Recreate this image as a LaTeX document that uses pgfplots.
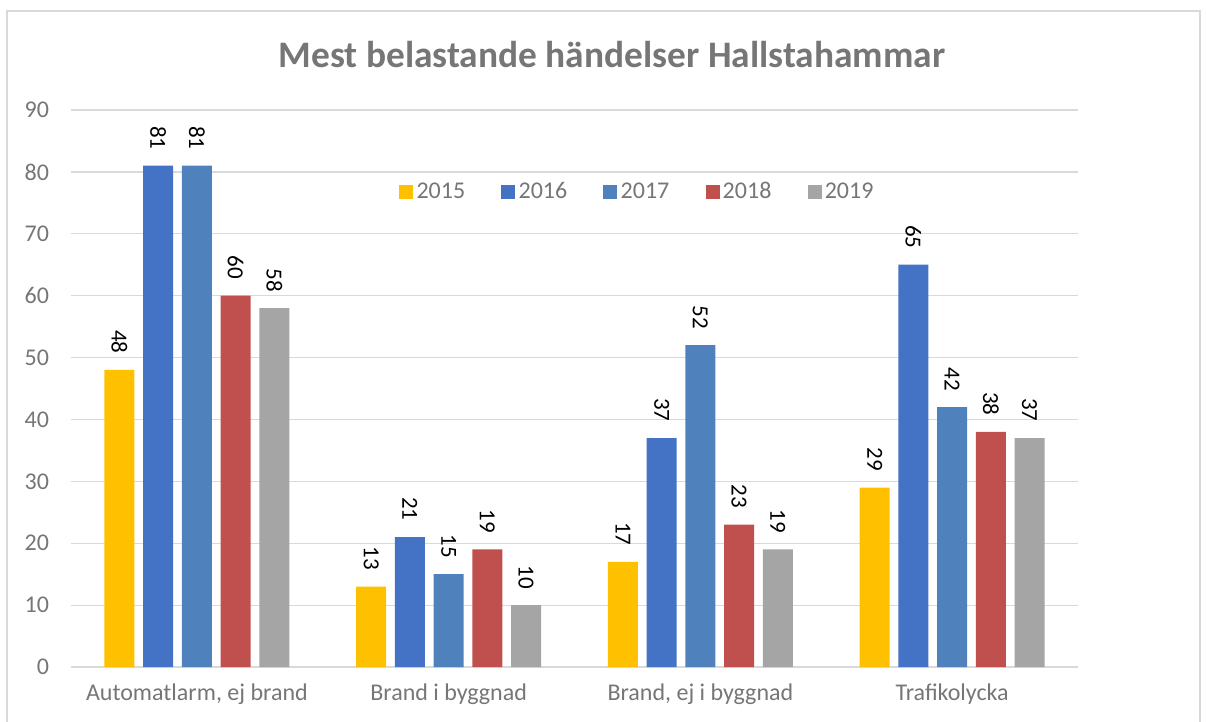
\documentclass[border=0pt]{standalone}
\usepackage{fontspec}
\setmainfont{Carlito}
\usepackage{pgfplots}
\pgfplotsset{compat=1.18}

\definecolor{c15}{HTML}{FFC000}
\definecolor{c16}{HTML}{4472C4}
\definecolor{c17}{HTML}{4F81BD}
\definecolor{c18}{HTML}{C0504D}
\definecolor{c19}{HTML}{A5A5A5}
\definecolor{gridgray}{HTML}{D9D9D9}
\definecolor{txtgray}{HTML}{767676}

\begin{document}
\begin{tikzpicture}
% page = 1206 x 722 px, 1 px = 0.5pt
\useasboundingbox (0,0) rectangle (603pt,-361pt);
\begin{scope}[x=0.5pt,y=-0.5pt]
  \draw[gridgray, line width=0.6pt] (7,730) -- (7,11) -- (1200,11) -- (1200,730);
  \node[font=\fontsize{18.7}{22}\selectfont\bfseries, text=txtgray] at (612,55)
    {Mest belastande händelser Hallstahammar};
\end{scope}

\begin{axis}[
    at={(35.5pt,-333.5pt)}, anchor=south west,
    scale only axis,
    width=503.5pt, height=278.5pt,
    xmin=-0.5, xmax=3.5,
    ymin=0, ymax=90,
    ytick={0,10,...,90},
    xtick={0,1,2,3},
    xticklabels={{Automatlarm, ej brand},Brand i byggnad,{Brand, ej i byggnad},Trafikolycka},
    /pgf/number format/assume math mode=true,
    ymajorgrids,
    grid style={gridgray, line width=0.6pt},
    axis line style={draw=none},
    tick style={draw=none},
    major tick length=0pt,
    ticklabel style={font=\fontsize{12}{14}\selectfont, text=txtgray},
    yticklabel style={xshift=-7.5pt},
    xticklabel style={yshift=-4.8pt},
    ybar=4.35pt,
    bar width=15pt,
    nodes near coords,
    every node near coord/.append style={rotate=-90, anchor=east,
      inner xsep=8pt, inner ysep=0pt,
      font=\fontsize{11.5}{13}\selectfont, text=black},
    legend columns=5,
    legend style={at={(0.3257,0.8528)}, anchor=west, draw=none, fill=none,
      inner sep=0pt, font=\fontsize{12}{14}\selectfont, text=txtgray,
      nodes={inner sep=1.6pt},
      /tikz/every even column/.append style={column sep=16.5pt}},
    legend image code/.code={\fill[#1] (0pt,-3.5pt) rectangle (7pt,3.5pt);},
]
\addplot[fill=c15, draw=none] coordinates {(0,48) (1,13) (2,17) (3,29)};
\addplot[fill=c16, draw=none] coordinates {(0,81) (1,21) (2,37) (3,65)};
\addplot[fill=c17, draw=none] coordinates {(0,81) (1,15) (2,52) (3,42)};
\addplot[fill=c18, draw=none] coordinates {(0,60) (1,19) (2,23) (3,38)};
\addplot[fill=c19, draw=none] coordinates {(0,58) (1,10) (2,19) (3,37)};
\legend{2015,2016,2017,2018,2019}
\end{axis}
\end{tikzpicture}
\end{document}
